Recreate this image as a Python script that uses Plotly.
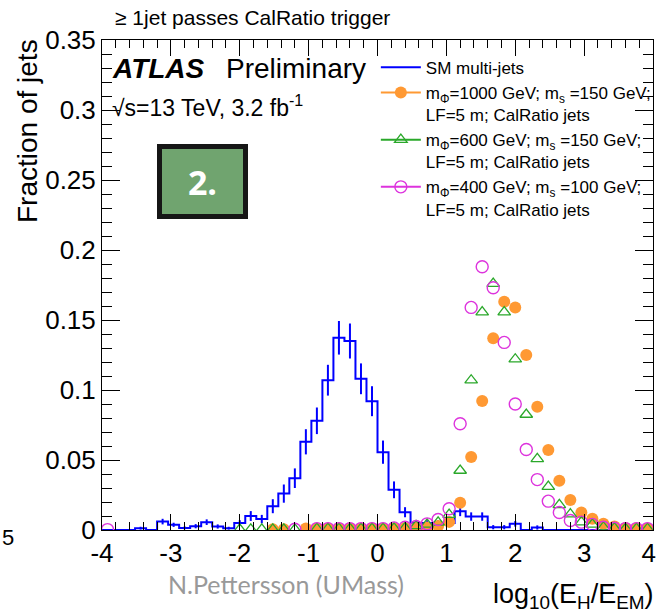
import numpy as np
import plotly.graph_objects as go

# ---------------- data ----------------
X_MIN, X_MAX, N_BINS = -4.0, 4.0, 50

SM_MULTIJETS = [0, 0, 0, 0.0013, 0, 0.006, 0.0037, 0.0015, 0.0027, 0.0056,
                0.0025, 0.0013, 0.005, 0.010, 0.0078, 0.017, 0.026, 0.037, 0.063, 0.078,
                0.107, 0.1373, 0.135, 0.108, 0.092, 0.0556, 0.0287, 0.0127, 0.005, 0.005,
                0.005, 0.005, 0.0134, 0.0096, 0.0096, 0.002, 0.002, 0.0044, 0, 0.0018,
                0, 0, 0, 0, 0, 0, 0, 0, 0, 0]
SM_ERR = [0, 0, 0, 0.001, 0, 0.002, 0.0015, 0.001, 0.0015, 0.002,
          0.0015, 0.001, 0.002, 0.0035, 0.003, 0.005, 0.0065, 0.007, 0.009, 0.0095,
          0.011, 0.012, 0.0125, 0.011, 0.0107, 0.0083, 0.006, 0.0036, 0.002, 0.002,
          0.002, 0.002, 0.0035, 0.003, 0.003, 0.0015, 0.0015, 0.002, 0, 0.0015,
          0, 0, 0, 0, 0, 0, 0, 0, 0, 0]

N = None
SIG_1000_150 = [N, N, N, N, N, N, N, N, N, N,
                N, N, N, N, N, 0.0005, 0.0005, N, 0.001, 0.001,
                0.001, 0.001, 0.001, 0.001, 0.001, 0.001, 0.0012, 0.0015, 0.0015, 0.0017,
                0.0029, 0.0058, 0.0195, 0.0521, 0.0921, 0.137, 0.163, 0.159, 0.125, 0.088,
                0.0571, 0.0352, 0.0215, 0.0125, 0.008, 0.0045, 0.0025, 0.0015, 0.0012, 0.001]
SIG_600_150 = [N, N, N, N, N, N, N, N, N, N,
               N, N, 0.0005, 0.0005, 0.0005, 0.0005, 0.0005, 0.0005, N, 0.001,
               0.001, 0.001, 0.001, 0.001, 0.001, 0.001, 0.0012, 0.0015, 0.003, 0.004,
               0.0055, 0.011, 0.0425, 0.107, 0.1556, 0.176, 0.1556, 0.122, 0.0825, 0.0508,
               0.031, 0.018, 0.0113, 0.0056, 0.004, 0.002, 0.0013, 0.001, 0.001, 0.001]
SIG_400_100 = [0.0003, N, N, N, N, N, N, N, N, N,
               N, N, N, N, N, N, N, 0.0005, N, 0.001,
               0.001, 0.001, 0.001, 0.001, 0.001, 0.001, 0.0015, 0.002, 0.0025, 0.0044,
               0.0075, 0.0152, 0.0759, 0.159, 0.188, 0.173, 0.134, 0.090, 0.0575, 0.036,
               0.0206, 0.0125, 0.0068, 0.0056, 0.004, 0.002, 0.0013, 0.001, 0.001, 0.001]

X_TICKS = [-4, -3, -2, -1, 0, 1, 2, 3, 4]
X_TICK_LABELS = ["-4", "-3", "-2", "-1", "0", "1", "2", "3", "4"]
Y_TICKS = [0, 0.05, 0.1, 0.15, 0.2, 0.25, 0.3, 0.35]
Y_TICK_LABELS = ["0", "0.05", "0.1", "0.15", "0.2", "0.25", "0.3", "0.35"]

NAMES = ["SM multi-jets",
         "m<sub>Φ</sub>=1000 GeV; m<sub>s</sub> =150 GeV;<br>LF=5 m; CalRatio jets",
         "m<sub>Φ</sub>=600 GeV; m<sub>s</sub> =150 GeV;<br>LF=5 m; CalRatio jets",
         "m<sub>Φ</sub>=400 GeV; m<sub>s</sub> =100 GeV;<br>LF=5 m; CalRatio jets"]

# ---------------- figure ----------------
FONT = "Liberation Sans, Arial, Helvetica, sans-serif"
BLUE = "#0000ff"
ORANGE = "#ff9933"
GREEN = "#2aa82a"
MAGENTA = "#dd33dd"

edges = np.linspace(X_MIN, X_MAX, N_BINS + 1)
centers = 0.5 * (edges[:-1] + edges[1:])

# the last x label sits slightly inside the page edge (as in the ROOT original):
# pad it with an invisible character so that its visible glyph moves left a bit
x_tick_text = list(X_TICK_LABELS)
x_tick_text[-1] = x_tick_text[-1] + "<span style='color:rgba(0,0,0,0)'>-</span>"

fig = go.Figure()

# SM histogram (step)
fig.add_trace(go.Scatter(
    x=edges, y=list(SM_MULTIJETS) + [SM_MULTIJETS[-1]],
    mode="lines", line=dict(color=BLUE, width=2, shape="hv"),
    name=NAMES[0], showlegend=True))

# SM error bars
err_x = [c for c, e in zip(centers, SM_ERR) if e > 0]
err_y = [v for v, e in zip(SM_MULTIJETS, SM_ERR) if e > 0]
err_e = [e for e in SM_ERR if e > 0]
fig.add_trace(go.Scatter(
    x=err_x, y=err_y, mode="markers",
    marker=dict(size=1, color="rgba(0,0,0,0)"),
    error_y=dict(type="data", array=err_e, visible=True, color=BLUE,
                 thickness=2, width=0),
    showlegend=False, hoverinfo="skip"))

signals = [
    (SIG_1000_150, ORANGE, "circle", NAMES[1], 12, 0),
    (SIG_600_150, GREEN, "triangle-up-open", NAMES[2], 11, 1.3),
    (SIG_400_100, MAGENTA, "circle-open", NAMES[3], 12, 1.4),
]
for vals, col, sym, name, size, lw in signals:
    fig.add_trace(go.Scatter(
        x=centers, y=vals, mode="markers",
        marker=dict(symbol=sym, size=size, color=col,
                    line=dict(color=col, width=lw)),
        showlegend=False))
    fig.add_trace(go.Scatter(
        x=[None], y=[None], mode="lines+markers", name=name,
        line=dict(color=col, width=2),
        marker=dict(symbol=sym, size=size, color=col,
                    line=dict(color=col, width=lw))))

axis_common = dict(
    showline=True, linecolor="black", linewidth=1, mirror="allticks",
    ticks="inside", tickcolor="black", tickwidth=1,
    showgrid=False, zeroline=False, ticklabeloverflow="allow",
    tickfont=dict(family=FONT, size=26, color="black"),
)
fig.update_xaxes(range=[X_MIN, X_MAX], tickmode="array", tickvals=X_TICKS,
                 ticktext=x_tick_text, ticklen=16,
                 minor=dict(tickmode="linear", tick0=X_MIN, dtick=0.2,
                            ticks="inside", ticklen=8, tickcolor="black"),
                 **axis_common)
fig.update_yaxes(range=[0, 0.35], tickmode="array", tickvals=Y_TICKS,
                 ticktext=Y_TICK_LABELS, ticklen=18,
                 minor=dict(tickmode="linear", tick0=0, dtick=0.01,
                            ticks="inside", ticklen=10, tickcolor="black"),
                 **axis_common)

fig.update_layout(
    width=657, height=613,
    margin=dict(l=102, r=4, t=40, b=83, pad=0, autoexpand=False),
    plot_bgcolor="white", paper_bgcolor="white",
    font=dict(family=FONT, color="black"),
    legend=dict(x=0.497, y=0.98, xanchor="left", yanchor="top",
                bgcolor="rgba(0,0,0,0)", font=dict(family=FONT, size=17, color="black"),
                valign="top", tracegroupgap=0, itemwidth=40),
)

L, W, T, H = 102, 551, 40, 490


def px(xp):
    return (xp - L) / W


def py(yp):
    return (T + H - yp) / H


annos = [
    dict(text="≥ 1jet passes CalRatio trigger", x=px(113), y=py(18), xanchor="left",
         yanchor="middle", font=dict(size=21)),
    dict(text="<b><i>ATLAS</i></b>", x=px(110), y=py(68), xanchor="left",
         yanchor="middle", font=dict(size=28)),
    dict(text="Preliminary", x=px(224), y=py(68), xanchor="left",
         yanchor="middle", font=dict(size=28)),
    dict(text="√s=13 TeV, 3.2 fb<sup>-1</sup>", x=px(110), y=py(106), xanchor="left",
         yanchor="middle", font=dict(size=23)),
    dict(text="Fraction of jets", x=px(28), y=py(37), xanchor="center",
         yanchor="top", textangle=-90, font=dict(size=28)),
    dict(text="log<sub>10</sub>(E<sub>H</sub>/E<sub>EM</sub>)", x=px(656), y=py(596),
         xanchor="right", yanchor="middle", font=dict(size=27)),
    dict(text="N.Pettersson (UMass)", x=px(286), y=py(584), xanchor="center",
         yanchor="middle", font=dict(family="Lato, Open Sans, sans-serif", size=25,
                                     color="#999999")),
    dict(text="5", x=px(0), y=py(537), xanchor="left", yanchor="middle",
         font=dict(size=22)),
    dict(text="<b>2.</b>", x=px(202.5), y=py(181), xanchor="center", yanchor="middle",
         width=79, height=63, bgcolor="#70a46f", bordercolor="#161616", borderwidth=5,
         borderpad=1, font=dict(family="Open Sans, sans-serif", size=34, color="white")),
]
for a in annos:
    a.setdefault("xref", "paper")
    a.setdefault("yref", "paper")
    a["showarrow"] = False
    fig.add_annotation(**a)

fig.write_html("out.html")
